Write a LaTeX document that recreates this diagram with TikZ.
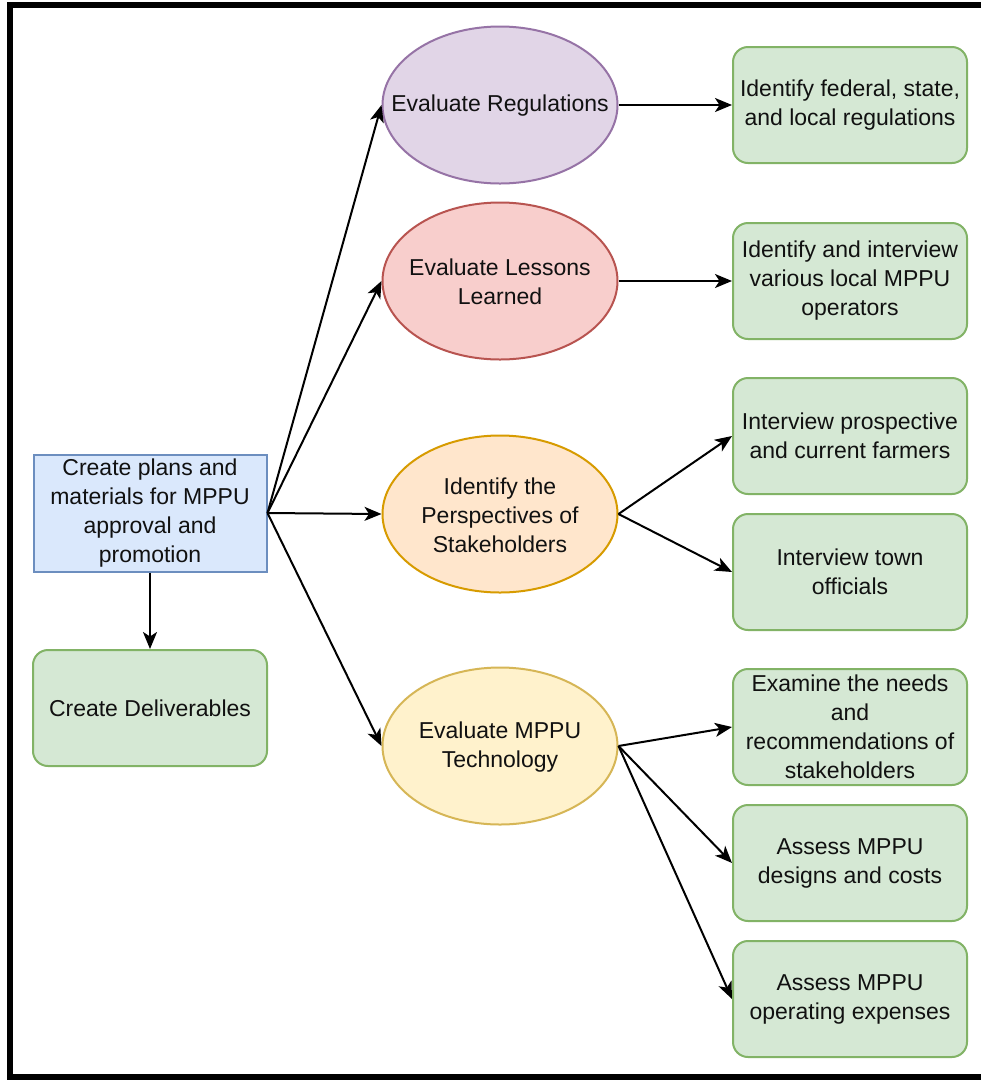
\documentclass[tikz,border=0pt]{standalone}
\usepackage{fontspec}
\setmainfont{Liberation Sans}
\usetikzlibrary{shapes.geometric,arrows.meta}
\definecolor{bluef}{HTML}{DAE8FC}\definecolor{bluel}{HTML}{6C8EBF}
\definecolor{greenf}{HTML}{D5E8D4}\definecolor{greenl}{HTML}{82B366}
\definecolor{purpf}{HTML}{E1D5E7}\definecolor{purpl}{HTML}{9673A6}
\definecolor{redf}{HTML}{F8CECC}\definecolor{redl}{HTML}{B85450}
\definecolor{orf}{HTML}{FFE6CC}\definecolor{orl}{HTML}{D79B00}
\definecolor{yelf}{HTML}{FFF2CC}\definecolor{yell}{HTML}{D6B656}
\definecolor{txt}{HTML}{111111}
\tikzset{
  base/.style={inner sep=0pt, align=center, text=txt, font=\fontsize{23}{29}\selectfont, line width=2pt},
  gbox/.style={base, draw=greenl, fill=greenf, rounded corners=15pt, minimum width=234pt, minimum height=116pt},
  bbox/.style={base, draw=bluel, fill=bluef, minimum width=233pt, minimum height=117pt},
  ell/.style={ellipse, line width=2pt, minimum width=235pt, minimum height=157pt, inner sep=0pt},
  etext/.style={base},
  conn/.style={line width=2pt, -{Stealth[length=17pt, width=14pt, inset=4.5pt]}}
}
\begin{document}
\begin{tikzpicture}[x=1pt,y=-1pt]
\path[use as bounding box] (0,0) rectangle (981,1080);
\fill[white] (0,0) rectangle (981,1080);
% frame
\draw[line width=6pt] (981,5) -- (10,5) -- (10,1077) -- (981,1077);

% left
\node[bbox] (main) at (150,513) {Create plans and\\materials for MPPU\\approval and\\promotion};
\node[gbox] (deliv) at (150,708) {Create Deliverables};

% ellipses
\node[ell, draw=purpl, fill=purpf] (reg) at (500,105) {};
\node[etext] (regt) at (500,106) {Evaluate Regulations};
\node[ell, draw=redl, fill=redf] (les) at (500,281) {};
\node[etext] (lest) at (500,282) {Evaluate Lessons\\Learned};
\node[ell, draw=orl, fill=orf] (sta) at (500,514) {};
\node[etext] (stat) at (500,515) {Identify the\\Perspectives of\\Stakeholders};
\node[ell, draw=yell, fill=yelf] (tec) at (500,746) {};
\node[etext] (tect) at (500,747) {Evaluate MPPU\\Technology};

% right boxes
\node[gbox] (b1) at (850,105) {Identify federal, state,\\and local regulations};
\node[gbox] (b2) at (850,281) {Identify and interview\\various local MPPU\\operators};
\node[gbox] (b3) at (850,436) {Interview prospective\\and current farmers};
\node[gbox] (b4) at (850,572) {Interview town\\officials};
\node[gbox] (b5) at (850,727) {Examine the needs\\and\\recommendations of\\stakeholders};
\node[gbox] (b6) at (850,863) {Assess MPPU\\designs and costs};
\node[gbox] (b7) at (850,999) {Assess MPPU\\operating expenses};

% connectors
\draw[conn] (main.east) -- (reg.west);
\draw[conn] (main.east) -- (les.west);
\draw[conn] (main.east) -- (sta.west);
\draw[conn] (main.east) -- (tec.west);
\draw[conn] (main.south) -- (deliv.north);
\draw[conn] (reg.east) -- (b1.west);
\draw[conn] (les.east) -- (b2.west);
\draw[conn] (sta.east) -- (b3.west);
\draw[conn] (sta.east) -- (b4.west);
\draw[conn] (tec.east) -- (b5.west);
\draw[conn] (tec.east) -- (b6.west);
\draw[conn] (tec.east) -- (b7.west);
\end{tikzpicture}
\end{document}
